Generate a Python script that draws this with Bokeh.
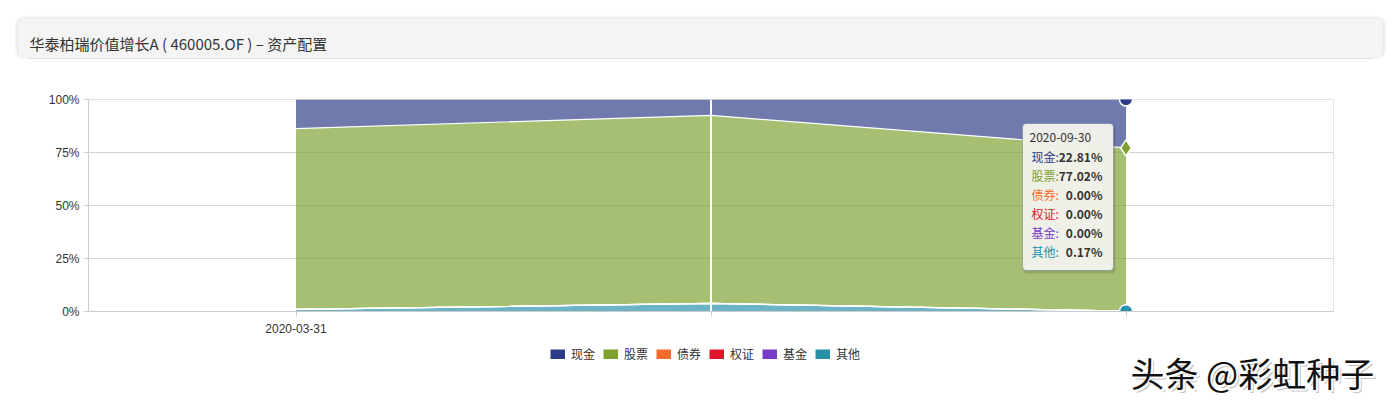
import numpy as np
from bokeh.plotting import figure
from bokeh.models import (ColumnDataSource, Range1d, FixedTicker, PrintfTickFormatter,
                          Legend, LegendItem, BoxAnnotation, Label)
from bokeh.embed import file_html
from bokeh.resources import INLINE

# ---------------- data ----------------
dates = ["2020-03-31", "2020-06-30", "2020-09-30"]
cash = [13.7, 7.5, 22.81]
stock = [85.3, 88.7, 77.02]
bond = [0.0, 0.0, 0.0]
warrant = [0.0, 0.0, 0.0]
fund = [0.0, 0.0, 0.0]
other = [1.0, 3.8, 0.17]

series_keys = ["cash", "stock", "bond", "warrant", "fund", "other"]
series_names = ["现金", "股票", "债券", "权证", "基金", "其他"]
series_colors = ["#2c3b86", "#7ea12f", "#f66b2b", "#e2142b", "#7a3cc6", "#2791aa"]
y_ticks = [0, 25, 50, 75, 100]
shown_x_labels = [dates[0]]
title_text = "华泰柏瑞价值增长A ( 460005.OF ) – 资产配置"
watermark_text = "头条 @彩虹种子"
tooltip_index = 2

CJK = "Noto Sans CJK SC"
LAT = "Liberation Sans"
W = 1392


def canvas_box(fig, l, t, r, b, color, alpha=1.0, radius=0, level="image", line_color=None):
    bx = BoxAnnotation(left=l, right=r, top=t, bottom=b,
                       left_units="canvas", right_units="canvas",
                       top_units="canvas", bottom_units="canvas",
                       fill_color=color, fill_alpha=alpha, line_color=line_color,
                       border_radius=radius, level=level)
    fig.add_layout(bx)
    return bx


def add_label(fig, sx, sy, text, size="12px", color="#333333", align="left", font=CJK,
              style="normal", alpha=1.0, level="annotation"):
    lab = Label(x=sx, y=sy, x_units="screen", y_units="screen", text=text,
                text_font=font, text_font_size=size, text_color=color, text_alpha=alpha,
                text_align=align, text_baseline="middle", text_font_style=style, level=level)
    fig.add_layout(lab)
    return lab


def blank_fig(h):
    f = figure(width=W, height=h, x_range=Range1d(0, 1), y_range=Range1d(0, 1),
               x_axis_location=None, y_axis_location=None, toolbar_location=None,
               output_backend="svg", min_border_left=0, min_border_right=0,
               min_border_top=0, min_border_bottom=0)
    f.outline_line_color = None
    f.border_fill_color = "white"
    f.background_fill_color = "white"
    f.grid.visible = False
    return f


# ---------------- header (title bar) ----------------
HH = 59
header = blank_fig(HH)
for i in range(1, 5):
    canvas_box(header, 18 - i, 18 - i + 1, 1382 + i, HH, "black", 0.025, 6 + i)
canvas_box(header, 18, 18, 1382, HH, "#f4f4f4", 1.0, 5)
canvas_box(header, 28, HH - 1, 1373, HH, "#cdcdcd")
add_label(header, 29, HH - 43, title_text, size="15px", color="#333333")

# ---------------- main chart ----------------
MH = 279
FL, FT, FB_MARGIN = 88, 40, 25
xpos = [i + 0.5 for i in range(len(dates))]   # centre of each date slot
data = dict(x=xpos, date=dates, cash=cash, stock=stock, bond=bond, warrant=warrant,
            fund=fund, other=other)
src = ColumnDataSource(data)

p = figure(width=W, height=MH,
           x_range=Range1d(0, len(dates)),
           y_range=Range1d(min(y_ticks), max(y_ticks)),
           output_backend="svg", toolbar_location=None,
           min_border_left=FL, min_border_right=W - 1333,
           min_border_top=FT, min_border_bottom=FB_MARGIN)
p.border_fill_color = "white"
p.background_fill_color = "white"
p.outline_line_color = "#e2e2e2"

p.yaxis.ticker = FixedTicker(ticks=y_ticks)
p.yaxis.formatter = PrintfTickFormatter(format="%d%%")
p.xaxis.ticker = FixedTicker(ticks=xpos)
p.xaxis.major_label_overrides = {x: (d if d in shown_x_labels else " ") for x, d in zip(xpos, dates)}
for ax in (p.xaxis, p.yaxis):
    ax.axis_line_color = "#cccccc"
    ax.major_tick_line_color = "#cccccc"
    ax.major_tick_in = 0
    ax.major_tick_out = 5
    ax.minor_tick_line_color = None
    ax.major_label_text_font = LAT
    ax.major_label_text_font_size = "12px"
    ax.major_label_text_color = "#333333"
p.yaxis.major_label_standoff = 4
p.xaxis.major_label_standoff = 5
p.xgrid.grid_line_color = None
p.ygrid.ticker = FixedTicker(ticks=y_ticks)
p.ygrid.grid_line_color = "#a8a8a8"
p.ygrid.grid_line_dash = "1 1"

# stacked areas (bottom -> top)
stack_order = ["other", "fund", "warrant", "bond", "stock", "cash"]
color_of = dict(zip(series_keys, series_colors))
p.varea_stack(stack_order, x="x", source=src,
              fill_color=[color_of[k] for k in stack_order], fill_alpha=0.68)
p.vline_stack(stack_order[:-1], x="x", source=src, line_color="white", line_width=1.2)

# vertical white line at the middle date
p.segment(x0=[xpos[1]], x1=[xpos[1]], y0=[min(y_ticks)], y1=[max(y_ticks)],
          line_color="white", line_width=2)

# hover markers at the tooltip date
vals = np.array([data[k] for k in stack_order], dtype=float)
cum = np.cumsum(vals, axis=0)[:, tooltip_index]
top = dict(zip(stack_order, cum))
xd = xpos[tooltip_index]
p.scatter(x=[xd], y=[top["cash"]], marker="circle", size=13,
          fill_color=color_of["cash"], line_color="white", line_width=1.5)
p.scatter(x=[xd], y=[top["stock"]], marker="diamond", size=16,
          fill_color=color_of["stock"], line_color="white", line_width=1.5)
p.scatter(x=[xd], y=[top["other"]], marker="circle", size=13,
          fill_color=color_of["other"], line_color="white", line_width=1.5)

# tooltip (box in canvas px of the main figure, texts relative to the frame)
canvas_box(p, 1023, 66, 1115, 214, "black", 0.12, 4, level="overlay")
canvas_box(p, 1022, 64, 1113, 211, "#f3f3ec", 0.96, 4, level="overlay", line_color="#2f3a6a")
FRAME_BOTTOM = MH - FB_MARGIN


def frame_label(cx, cy, text, **kw):
    # cx, cy: canvas px of the main figure (y down)
    return add_label(p, cx - FL, FRAME_BOTTOM - cy, text, level="overlay", **kw)


frame_label(1029, 80, dates[tooltip_index], size="12px", color="#333333")
row_y0, row_dy = 99, 19
row_vals = [data[k][tooltip_index] for k in series_keys]
for i, (name, col, v) in enumerate(zip(series_names, series_colors, row_vals)):
    y = row_y0 + i * row_dy
    frame_label(1031, y, name + ":", size="12px", color=col)
    frame_label(1102, y, "%.2f%%" % v, size="12px", color="#333333", align="right", style="bold")

# ---------------- legend + watermark strip ----------------
LH = 55
legfig = blank_fig(LH)
items = []
for name, col in zip(series_names, series_colors):
    r = legfig.line(x=[np.nan], y=[np.nan], line_color=col, line_width=10)
    items.append(LegendItem(label=name, renderers=[r]))
legend = Legend(items=items, orientation="horizontal", location=(550, 31),
                glyph_width=15, glyph_height=10, label_standoff=6, spacing=8,
                label_text_font=CJK, label_text_font_size="12px", label_text_color="#333333",
                border_line_color=None, background_fill_alpha=0, padding=0, margin=0)
legfig.add_layout(legend)

add_label(legfig, 1133, LH - 37, watermark_text, size="34px", color="#000000", alpha=0.25)
add_label(legfig, 1132, LH - 36, watermark_text, size="34px", color="#ffffff")
add_label(legfig, 1130, LH - 34, watermark_text, size="34px", color="#111111")

open("out.html", "w").write(file_html([header, p, legfig], INLINE))
